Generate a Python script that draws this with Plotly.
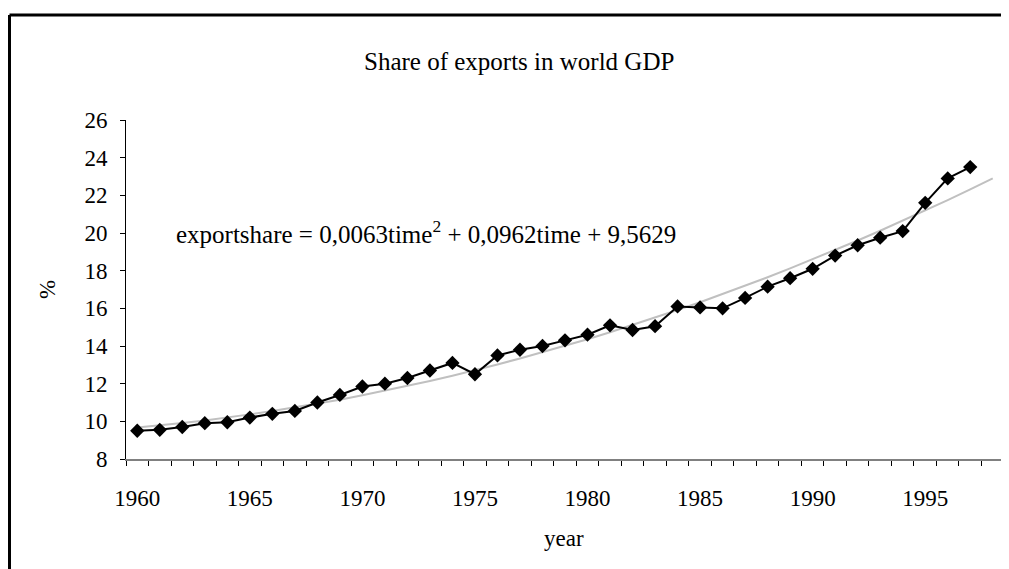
import plotly.graph_objects as go

W, H = 1009, 569
OFF = 8  # default page margin of the html body
L, R, T, B = 118, 13, 112, 118
PW, PH = W - L - R, H - T - B

years = list(range(1960, 1998))
export_share = [9.5, 9.55, 9.7, 9.9, 9.95, 10.2, 10.4, 10.55, 11.0, 11.4,
                11.85, 12.0, 12.3, 12.7, 13.1, 12.5, 13.5, 13.8, 14.0, 14.3,
                14.6, 15.1, 14.85, 15.05, 16.1, 16.05, 16.0, 16.55, 17.15, 17.6,
                18.1, 18.8, 19.35, 19.75, 20.1, 21.6, 22.9, 23.5]

trend_years = list(range(1960, 1999))
trend_share = [9.67, 9.78, 9.91, 10.05, 10.20, 10.37, 10.55, 10.74, 10.94, 11.15,
               11.38, 11.62, 11.88, 12.14, 12.42, 12.71, 13.02, 13.34, 13.67, 14.01,
               14.36, 14.73, 15.11, 15.50, 15.91, 16.32, 16.75, 17.20, 17.65, 18.12,
               18.60, 19.09, 19.60, 20.12, 20.65, 21.19, 21.75, 22.32, 22.90]

label_years = [1960, 1965, 1970, 1975, 1980, 1985, 1990, 1995]

FONT = "Liberation Serif"


# screen pixel -> paper coords
def px_x(x):
    return (x - OFF - L) / PW


def px_y(y):
    return (H - B - (y - OFF)) / PH


fig = go.Figure()

# trendline (grey)
fig.add_trace(go.Scatter(
    x=trend_years, y=trend_share, mode="lines",
    line=dict(color="#c0c0c0", width=2),
    hoverinfo="skip"
))

# data series
fig.add_trace(go.Scatter(
    x=years, y=export_share, mode="lines+markers",
    line=dict(color="black", width=2),
    marker=dict(symbol="diamond", size=11, color="black")
))

# outer frame (only top and left edges visible)
fig.add_shape(type="line", xref="paper", yref="paper",
              x0=px_x(9.5), x1=px_x(1030), y0=px_y(15), y1=px_y(15),
              line=dict(color="black", width=3))
fig.add_shape(type="line", xref="paper", yref="paper",
              x0=px_x(9.5), x1=px_x(9.5), y0=px_y(15), y1=px_y(600),
              line=dict(color="black", width=3))

fig.add_annotation(text="Share of exports in world GDP", xref="paper", yref="paper",
                   x=px_x(519), y=px_y(61), showarrow=False,
                   xanchor="center", yanchor="middle",
                   font=dict(family=FONT, size=25, color="black"))
fig.add_annotation(text="exportshare = 0,0063time<sup>2</sup> + 0,0962time + 9,5629",
                   xref="paper", yref="paper",
                   x=px_x(174), y=px_y(232), showarrow=False,
                   xanchor="left", yanchor="middle",
                   font=dict(family=FONT, size=25, color="black"))
fig.add_annotation(text="year", xref="paper", yref="paper",
                   x=px_x(564), y=px_y(538), showarrow=False,
                   xanchor="center", yanchor="middle",
                   font=dict(family=FONT, size=23, color="black"))
fig.add_annotation(text="%", xref="paper", yref="paper",
                   x=px_x(47), y=px_y(290), showarrow=False, textangle=-90,
                   xanchor="center", yanchor="middle",
                   font=dict(family=FONT, size=23, color="black"))

fig.update_xaxes(
    range=[1959.5, 1998.5], tickvals=label_years, ticks="", showgrid=False,
    zeroline=False, showline=True, linecolor="#808080", linewidth=2,
    ticklabelstandoff=17,
    tickfont=dict(family=FONT, size=23, color="black"),
    minor=dict(tick0=1959.5, dtick=1, ticks="outside", ticklen=5,
               tickcolor="black", tickwidth=1, showgrid=False)
)
fig.update_yaxes(
    range=[8, 26], dtick=2, ticks="outside", ticklen=5, tickcolor="black",
    showgrid=False, zeroline=False, showline=True, linecolor="black", linewidth=1,
    ticklabelstandoff=8,
    tickfont=dict(family=FONT, size=23, color="black")
)

fig.update_layout(
    width=W, height=H,
    margin=dict(l=L, r=R, t=T, b=B),
    plot_bgcolor="white", paper_bgcolor="white",
    showlegend=False
)

fig.write_html("out.html")
